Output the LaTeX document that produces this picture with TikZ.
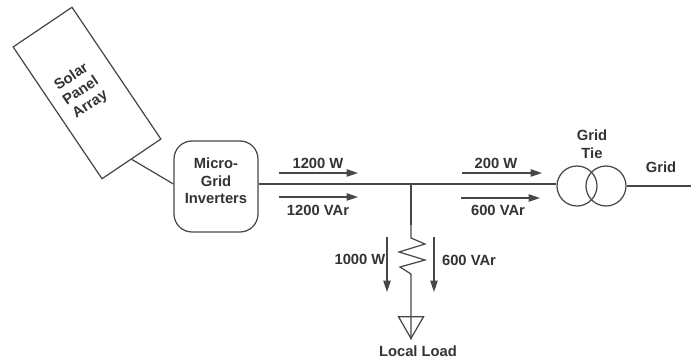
\documentclass[tikz,border=0pt]{standalone}
\usepackage{fontspec}
\setmainfont{Liberation Sans}
\usepackage{xcolor}
\usetikzlibrary{shapes,positioning,arrows.meta}
\colorlet{wire}{black!72}
\tikzset{lbl/.style={font=\fontsize{8.4}{10}\selectfont\bfseries,text=black!80,inner sep=0pt,align=center}}
\tikzset{wirebox/.style={draw=wire,line width=0.7pt,inner sep=0pt}}
\tikzset{coil/.style={wirebox,circle,minimum size=0.8cm}}
\tikzset{flow/.style={->,draw=wire,line width=0.7pt}}

\begin{document}
\begin{tikzpicture}[x=0.02cm,y=0.02cm,>={Stealth[length=6.5pt,width=4.2pt,inset=0pt]}]
    \useasboundingbox (0,0) rectangle (691,360);

    \node[wirebox,rectangle,rotate=34,minimum width=1.42cm,minimum height=3.18cm] (panel)at (87,267) {};
    \node[lbl,rotate=34] (panellbl)at (81,269) {Solar\\[-0.5pt]Panel\\[-0.5pt]Array};
    \node[wirebox,rectangle,rounded corners=0.36cm,minimum width=1.68cm,minimum height=1.82cm] (inv)at (216,173.5) {};
    \node[lbl] (invlbl)at (216,179) {Micro-\\Grid\\Inverters};
    \node[coil] (t1)at (577,174) {};
    \node[coil] (t2)at (606,174) {};
    \node[wirebox,regular polygon,regular polygon sides=3,shape border rotate=180,minimum size=0.576cm] (gnd)at (411,36) {};

    \coordinate (tee)at (411,176);
    \coordinate (stub)at (411,135);
    \coordinate (res)at (411,122);
    \coordinate (grid)at (691,174);

    \draw [wirebox] (panel.south) to (inv.west |- 0,176);
    \draw [wirebox] (inv.east |- tee) to (t1.west |- tee);
    \draw [wirebox] (t2.east) to (grid);
    \draw [wirebox,line width=1pt] (tee) to (stub);
    \draw [wirebox] (stub) -- (res) -- ++(14,-6) -- ++(-26,-8) -- ++(26,-8) -- ++(-25,-7) -- ++(11,-7) -- (gnd.corner 1);

    \coordinate (pa)at (279,187);
    \coordinate (pb)at (358,187);
    \coordinate (qa)at (279,163);
    \coordinate (qb)at (358,163);
    \coordinate (pc)at (462,187);
    \coordinate (pd)at (542,187);
    \coordinate (qc)at (461,162);
    \coordinate (qd)at (540,162);
    \coordinate (pe)at (387,123);
    \coordinate (pf)at (387,68);
    \coordinate (qe)at (434,123);
    \coordinate (qf)at (434,68);
    \draw [flow] (pa) to (pb);
    \draw [flow] (qa) to (qb);
    \draw [flow] (pc) to (pd);
    \draw [flow] (qc) to (qd);
    \draw [flow] (pe) to (pf);
    \draw [flow] (qe) to (qf);

    \node[lbl] (l1)at (318,197) {1200 W};
    \node[lbl] (l2)at (318,150) {1200 VAr};
    \node[lbl] (l3)at (496,197) {200 W};
    \node[lbl] (l4)at (498,150) {600 VAr};
    \node[lbl] (l5)at (360,101) {1000 W};
    \node[lbl] (l6)at (469,100) {600 VAr};
    \node[lbl] (l7)at (592,216) {Grid\\Tie};
    \node[lbl] (l8)at (661,193) {Grid};
    \node[lbl] (l9)at (418,9) {Local Load};
\end{tikzpicture}
\end{document}
